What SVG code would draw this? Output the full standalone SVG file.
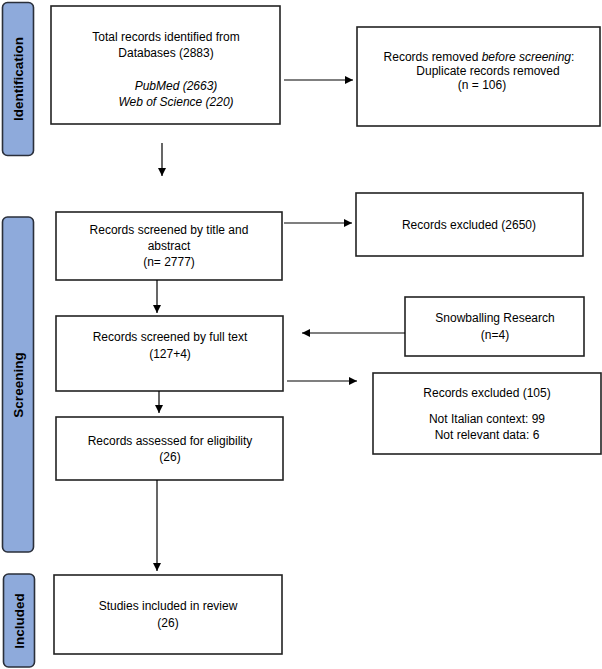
<svg xmlns="http://www.w3.org/2000/svg" width="602" height="669" viewBox="0 0 602 669">
<defs>
<marker id="ah" viewBox="0 0 10 10" refX="10" refY="5" markerWidth="8" markerHeight="8" markerUnits="userSpaceOnUse" orient="auto">
<path d="M0,0 L10,5 L0,10 z" fill="#000"/>
</marker>
<style>
.box{fill:#fff;stroke:#222;stroke-width:1.6}
.tab{fill:#8eaadb;stroke:#2a2f3a;stroke-width:1.6}
.t{font-family:"Liberation Sans",Arial,sans-serif;font-size:12px;fill:#000;text-anchor:middle}
.i{font-style:italic}
.lab{font-family:"Liberation Sans",Arial,sans-serif;font-size:13.5px;font-weight:bold;fill:#000;text-anchor:middle}
.c{fill:none;stroke:#000;stroke-width:1.2;marker-end:url(#ah)}
</style>
</defs>
<rect width="602" height="669" fill="#fff"/>
<g id="tab-identification">
<rect class="tab" x="2.5" y="2.5" width="31" height="153" rx="5"/>
<text class="lab" transform="translate(23,79) rotate(-90)">Identification</text>
</g>
<g id="tab-screening">
<rect class="tab" x="2.5" y="217" width="31" height="335" rx="5"/>
<text class="lab" transform="translate(23,385) rotate(-90)">Screening</text>
</g>
<g id="tab-included">
<rect class="tab" x="3.5" y="574" width="31" height="93" rx="5"/>
<text class="lab" transform="translate(24,621) rotate(-90)">Included</text>
</g>
<g id="n-total">
<rect class="box" x="51" y="6" width="229" height="118"/>
<text class="t" x="166" y="41">Total records identified from</text>
<text class="t" x="166" y="57">Databases (2883)</text>
<text class="t i" x="176" y="90">PubMed (2663)</text>
<text class="t i" x="176" y="106">Web of Science (220)</text>
</g>
<g id="n-removed">
<rect class="box" x="357" y="27" width="243" height="99"/>
<text class="t" x="479" y="61">Records removed <tspan class="i">before screening</tspan>:</text>
<text class="t" x="488" y="75">Duplicate records removed</text>
<text class="t" x="482" y="89">(n = 106)</text>
</g>
<g id="n-title">
<rect class="box" x="56" y="212" width="226" height="68"/>
<text class="t" x="169" y="234">Records screened by title and</text>
<text class="t" x="169" y="250">abstract</text>
<text class="t" x="169" y="266">(n= 2777)</text>
</g>
<g id="n-excl2650">
<rect class="box" x="356" y="193" width="227" height="63"/>
<text class="t" x="469" y="229">Records excluded (2650)</text>
</g>
<g id="n-fulltext">
<rect class="box" x="56" y="316" width="227" height="75"/>
<text class="t" x="170" y="341">Records screened by full text</text>
<text class="t" x="170" y="358">(127+4)</text>
</g>
<g id="n-snowball">
<rect class="box" x="405" y="297" width="179" height="59"/>
<text class="t" x="495" y="322">Snowballing Research</text>
<text class="t" x="495" y="339">(n=4)</text>
</g>
<g id="n-excl105">
<rect class="box" x="373" y="373" width="228" height="81"/>
<text class="t" x="487" y="397">Records excluded (105)</text>
<text class="t" x="487" y="423">Not Italian context: 99</text>
<text class="t" x="487" y="439">Not relevant data: 6</text>
</g>
<g id="n-eligibility">
<rect class="box" x="56" y="417" width="227" height="63"/>
<text class="t" x="170" y="445">Records assessed for eligibility</text>
<text class="t" x="170" y="461">(26)</text>
</g>
<g id="n-included">
<rect class="box" x="54" y="575" width="228" height="79"/>
<text class="t" x="168" y="610">Studies included in review</text>
<text class="t" x="168" y="627">(26)</text>
</g>
<g id="connectors">
<line class="c" x1="284" y1="80" x2="353" y2="80"/>
<line class="c" x1="162" y1="143" x2="162" y2="176"/>
<line class="c" x1="284" y1="223" x2="352" y2="223"/>
<line class="c" x1="157" y1="280" x2="157" y2="313"/>
<line class="c" x1="405" y1="333" x2="302" y2="333"/>
<line class="c" x1="287" y1="381" x2="357" y2="381"/>
<line class="c" x1="159" y1="391" x2="159" y2="413"/>
<line class="c" x1="157" y1="480" x2="157" y2="571"/>
</g>
</svg>
